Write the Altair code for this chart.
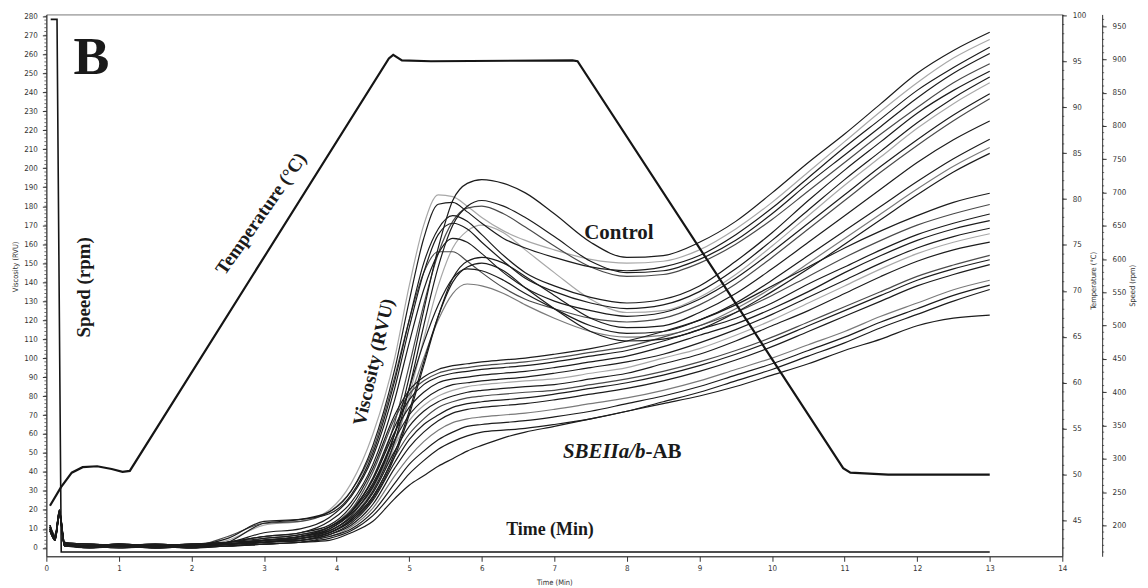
import altair as alt
import pandas as pd

# ---------------- data ----------------
T = [0.05, 0.12, 0.18, 0.25, 0.6, 1.0, 1.5, 2.0, 2.5, 3.0, 3.5, 3.9,
     4.2, 4.5, 4.8, 5.0, 5.2, 5.4, 5.6, 5.8, 6.0, 6.3, 6.6, 7.0,
     7.5, 8.0, 8.5, 9.0, 9.5, 10.0, 10.5, 11.0, 11.5, 12.0, 12.5, 13.0]

# Control (wild type) pasting curves, RVU
C01 = [10, 5, 19, 2, 1, 1, 0, 1, 2, 4, 6, 10, 18, 32, 60, 90, 125, 158, 183, 192, 194, 192, 187, 176, 161, 153, 154, 161, 172, 187, 203, 218, 234, 250, 262, 271.6]
C02 = [11, 6, 18, 3, 2, 1, 2, 1, 4, 12, 14, 20, 34, 60, 100, 138, 170, 186, 185, 180, 174, 167, 162, 157, 152, 150, 151, 157, 168, 182, 198, 214, 230, 245, 258, 267.8]
C03 = [9, 4, 17, 1, 0, 2, 1, 0, 3, 13, 15, 19, 30, 54, 94, 130, 163, 181, 182, 177, 171, 163, 158, 153, 148, 146, 148, 154, 165, 179, 195, 211, 226, 241, 253, 263.7]
C04 = [10, 5, 20, 2, 1, 0, 1, 1, 2, 3, 5, 9, 16, 30, 56, 84, 117, 148, 170, 180, 183, 180, 174, 164, 151, 145, 146, 152, 162, 176, 192, 207, 222, 237, 250, 260.4]
C05 = [12, 6, 18, 2, 2, 1, 1, 2, 3, 4, 6, 11, 20, 36, 66, 96, 128, 155, 172, 179, 180, 176, 169, 159, 148, 143, 144, 150, 160, 173, 188, 203, 218, 232, 245, 255]
C06 = [10, 5, 18, 1, 1, 2, 0, 1, 5, 14, 15, 18, 28, 50, 88, 120, 150, 168, 175, 172, 165, 154, 145, 138, 132, 129, 131, 138, 151, 166, 183, 199, 214, 229, 241, 251.1]
C07 = [11, 5, 19, 3, 1, 1, 1, 2, 3, 8, 10, 16, 27, 48, 84, 116, 145, 165, 171, 168, 161, 151, 142, 135, 129, 126, 128, 135, 147, 162, 178, 194, 209, 224, 237, 248]
C08 = [10, 6, 17, 2, 1, 1, 2, 1, 2, 3, 5, 9, 16, 29, 54, 80, 110, 138, 158, 167, 170, 166, 157, 145, 131, 124, 125, 132, 144, 159, 175, 191, 206, 221, 234, 245]
C09 = [9, 4, 18, 2, 0, 1, 1, 0, 3, 6, 8, 14, 24, 44, 78, 108, 136, 155, 163, 161, 155, 145, 137, 130, 125, 122, 124, 131, 142, 156, 171, 186, 201, 215, 228, 239.2]
C10 = [12, 7, 19, 3, 2, 1, 1, 1, 6, 13, 14, 19, 30, 52, 90, 120, 145, 156, 156, 151, 145, 137, 131, 126, 121, 119, 121, 128, 139, 153, 168, 183, 198, 212, 225, 236.6]
C11 = [10, 5, 18, 1, 1, 2, 1, 1, 2, 3, 4, 8, 14, 26, 48, 70, 96, 122, 142, 151, 153, 150, 143, 133, 121, 116, 117, 124, 134, 147, 161, 175, 189, 203, 215, 224.9]
C12 = [11, 5, 20, 2, 1, 0, 1, 2, 3, 4, 6, 11, 19, 34, 60, 84, 108, 128, 142, 147, 146, 141, 134, 126, 117, 113, 114, 120, 129, 141, 154, 167, 180, 193, 205, 215.3]
C13 = [10, 6, 17, 2, 2, 1, 0, 1, 2, 4, 6, 10, 18, 32, 56, 78, 100, 120, 134, 139, 138, 134, 128, 121, 114, 111, 112, 117, 126, 137, 150, 163, 176, 189, 201, 210.9]
C14 = [9, 4, 18, 2, 1, 1, 2, 1, 2, 3, 5, 8, 15, 27, 50, 72, 98, 122, 140, 148, 150, 146, 137, 126, 114, 109, 110, 115, 124, 135, 147, 160, 173, 186, 198, 207.8]

# SBEIIa/b-AB mutant curves, RVU
M01 = [10, 5, 18, 2, 1, 1, 1, 1, 3, 6, 8, 12, 22, 42, 70, 83, 90, 94, 96, 97, 98, 99, 100, 102, 105, 109, 114, 120, 128, 138, 148, 158, 167, 175, 182, 186.8]
M02 = [11, 6, 19, 2, 2, 1, 1, 2, 2, 5, 7, 11, 20, 40, 68, 81, 88, 92, 94, 95, 96, 97, 98, 100, 103, 106, 111, 117, 124, 133, 143, 153, 162, 170, 176, 180.9]
M03 = [9, 5, 18, 1, 1, 2, 1, 1, 2, 4, 6, 10, 19, 37, 64, 78, 86, 90, 92, 93, 94, 95, 96, 98, 101, 104, 109, 115, 121, 129, 139, 148, 157, 165, 171, 175.9]
M04 = [10, 4, 17, 2, 0, 1, 2, 1, 3, 5, 7, 11, 19, 36, 61, 74, 82, 87, 89, 90, 91, 92, 93, 95, 98, 101, 106, 112, 118, 126, 135, 145, 154, 162, 168, 172.4]
M05 = [12, 6, 20, 3, 1, 1, 1, 2, 2, 4, 6, 9, 17, 33, 57, 70, 78, 83, 86, 87, 88, 89, 90, 92, 95, 98, 102, 108, 115, 123, 132, 141, 150, 158, 164, 168.4]
M06 = [10, 5, 18, 2, 2, 0, 1, 1, 2, 3, 5, 9, 16, 31, 54, 67, 75, 80, 83, 85, 86, 87, 88, 89, 92, 95, 100, 105, 112, 120, 129, 138, 147, 155, 161, 165.5]
M07 = [11, 5, 19, 2, 1, 1, 0, 1, 2, 4, 5, 8, 15, 29, 51, 64, 72, 77, 80, 82, 83, 84, 85, 86, 89, 92, 97, 102, 109, 117, 125, 134, 143, 151, 157, 161.1]
M08 = [9, 4, 17, 1, 1, 2, 1, 0, 1, 3, 5, 8, 14, 27, 48, 60, 68, 74, 77, 79, 80, 81, 82, 83, 86, 89, 93, 98, 104, 111, 119, 127, 135, 143, 149, 154.1]
M09 = [10, 6, 18, 2, 1, 1, 2, 1, 2, 3, 4, 7, 13, 25, 45, 57, 65, 70, 74, 76, 77, 78, 79, 81, 84, 87, 91, 96, 102, 109, 117, 125, 133, 141, 147, 151.8]
M10 = [11, 5, 19, 3, 2, 1, 1, 1, 1, 3, 4, 7, 12, 23, 42, 53, 61, 67, 71, 73, 74, 75, 76, 78, 81, 84, 88, 93, 99, 106, 114, 122, 130, 138, 144, 149.2]
M11 = [10, 5, 18, 2, 1, 1, 1, 2, 2, 3, 4, 6, 11, 21, 38, 48, 56, 62, 66, 68, 69, 70, 71, 73, 76, 79, 83, 88, 94, 100, 107, 114, 122, 129, 136, 141]
M12 = [12, 6, 19, 1, 1, 2, 0, 1, 1, 2, 3, 6, 10, 19, 34, 44, 51, 57, 61, 64, 65, 66, 67, 69, 72, 76, 80, 85, 91, 97, 104, 111, 119, 126, 133, 138.4]
M13 = [10, 5, 17, 2, 2, 1, 1, 1, 1, 2, 3, 5, 9, 17, 30, 39, 46, 52, 56, 59, 61, 62, 63, 65, 68, 72, 77, 82, 88, 94, 101, 108, 116, 123, 130, 136.1]
M14 = [9, 4, 18, 2, 1, 1, 1, 0, 1, 2, 3, 4, 8, 14, 26, 33, 38, 43, 47, 51, 54, 58, 61, 64, 68, 72, 76, 80, 85, 91, 97, 104, 110, 117, 121, 122.6]

# Temperature profile (deg C)
TEMP_T = [0.05, 0.2, 0.35, 0.5, 0.7, 0.9, 1.05, 1.15, 4.72, 4.78, 4.9, 5.3, 7.25, 7.32, 10.98, 11.08, 11.6, 13.0]
TEMP_V = [46.6, 48.6, 50.2, 50.8, 50.9, 50.6, 50.3, 50.4, 95.3, 95.7, 95.1, 95.0, 95.1, 95.0, 50.7, 50.2, 50.0, 50.0]

# Paddle speed (rpm)
SPEED_T = [0.06, 0.147, 0.205, 13.0]
SPEED_V = [960, 960, 160, 160]

CURVES = {
    "C01": C01, "C02": C02, "C03": C03, "C04": C04, "C05": C05, "C06": C06, "C07": C07,
    "C08": C08, "C09": C09, "C10": C10, "C11": C11, "C12": C12, "C13": C13, "C14": C14,
    "M01": M01, "M02": M02, "M03": M03, "M04": M04, "M05": M05, "M06": M06, "M07": M07,
    "M08": M08, "M09": M09, "M10": M10, "M11": M11, "M12": M12, "M13": M13, "M14": M14,
}

# ---------------- styles ----------------
SHADE = {"k": "#1c1c1c", "d": "#4a4a4a", "m": "#7a7a7a", "l": "#a8a8a8"}
CURVE_SHADE = {
    "C01": "k", "C02": "l", "C03": "k", "C04": "k", "C05": "d", "C06": "k", "C07": "k",
    "C08": "l", "C09": "k", "C10": "d", "C11": "k", "C12": "k", "C13": "m", "C14": "k",
    "M01": "k", "M02": "d", "M03": "k", "M04": "k", "M05": "k", "M06": "l", "M07": "k",
    "M08": "d", "M09": "k", "M10": "k", "M11": "m", "M12": "k", "M13": "k", "M14": "k",
}

W, H = 1020, 544
AX_FONT = "DejaVu Sans Condensed, DejaVu Sans"
SERIF = "Liberation Serif"
AXC = "#333333"

# draw lighter curves first so dark ones sit on top
order = sorted(CURVES.keys(), key=lambda k: {"l": 0, "m": 1, "d": 2, "k": 3}[CURVE_SHADE[k]])
rows = []
for name in order:
    for t, v in zip(T, CURVES[name]):
        rows.append({"t": t, "v": v, "curve": name})
visc_df = pd.DataFrame(rows)
temp_df = pd.DataFrame({"t": TEMP_T, "temp": TEMP_V})
speed_df = pd.DataFrame({"t": SPEED_T, "rpm": SPEED_V})

common_axis = dict(labelFont=AX_FONT, labelFontSize=8, labelColor=AXC, domainColor=AXC,
                   tickColor=AXC, titleFont=AX_FONT, titleFontSize=7.5, titleFontWeight="normal",
                   titleColor=AXC, grid=False, labelFlush=False)

x_axis = alt.Axis(values=list(range(0, 15)), title="Time (Min)", tickSize=5, labelPadding=3,
                  titleY=22, titleBaseline="top", **common_axis)
X = alt.X("t:Q", scale=alt.Scale(domain=[0, 14], nice=False, zero=False), axis=x_axis)

visc_axis = alt.Axis(values=list(range(0, 281, 10)), title="Viscosity (RVU)", tickSize=4,
                     labelPadding=5, titleX=-31, titleY=253, titleAngle=270,
                     titleBaseline="middle", **common_axis)
YV = alt.Y("v:Q", scale=alt.Scale(domain=[-4.4, 281], nice=False, zero=False), axis=visc_axis)

temp_axis = alt.Axis(orient="right", values=list(range(45, 101, 5)), title="Temperature (°C)",
                     tickSize=4, labelPadding=6, titleX=31, titleY=267, titleAngle=270,
                     titleBaseline="middle", **common_axis)
YT = alt.Y("temp:Q", scale=alt.Scale(domain=[41.1, 100.1], nice=False, zero=False), axis=temp_axis)

speed_axis = alt.Axis(orient="right", offset=40, values=list(range(200, 951, 50)), title="Speed (rpm)",
                      tickSize=4, labelPadding=6, titleX=30, titleY=272, titleAngle=270,
                      titleBaseline="middle", **common_axis)
YS = alt.Y("rpm:Q", scale=alt.Scale(domain=[153.6, 967.5], nice=False, zero=False), axis=speed_axis)

# minor ticks (axis decoration)
minor_v = alt.Chart(pd.DataFrame({"v": list(range(0, 281, 2))})).mark_rule(
    color=AXC, strokeWidth=0.7).encode(y=YV, x=alt.value(0), x2=alt.value(-2))
minor_t = alt.Chart(pd.DataFrame({"temp": list(range(42, 101, 1))})).mark_rule(
    color=AXC, strokeWidth=0.7).encode(y=YT, x=alt.value(W), x2=alt.value(W + 2))
minor_s = alt.Chart(pd.DataFrame({"rpm": list(range(160, 961, 10))})).mark_rule(
    color=AXC, strokeWidth=0.7).encode(y=YS, x=alt.value(W + 40), x2=alt.value(W + 42))

lines_v = alt.Chart(visc_df).mark_line(strokeWidth=1.2, interpolate="monotone").encode(
    x=X, y=YV,
    color=alt.Color("curve:N", scale=alt.Scale(domain=order, range=[SHADE[CURVE_SHADE[k]] for k in order]),
                    legend=None),
)

line_t = alt.Chart(temp_df).mark_line(strokeWidth=2.2, color="#151515").encode(x=X, y=YT)
line_s = alt.Chart(speed_df).mark_line(strokeWidth=1.6, color="#151515").encode(x=X, y=YS)


def label(text, t, v, size, angle=0, italic=False, align="center", baseline="middle"):
    df = pd.DataFrame({"t": [t], "v": [v], "label": [text]})
    return alt.Chart(df).mark_text(
        font=SERIF, fontWeight="bold", fontStyle="italic" if italic else "normal",
        fontSize=size, angle=angle, align=align, baseline=baseline, color="#1a1a1a",
    ).encode(x=X, y=YV, text="label:N")


texts = [
    label("B", 0.62, 249.6, 54, baseline="alphabetic"),
    label("Speed (rpm)", 0.515, 137.2, 19, angle=270),
    label("Temperature (°C)", 2.96, 176, 19, angle=305),
    label("Viscosity (RVU)", 4.51, 97.9, 19, angle=283),
    label("Control", 7.89, 165.6, 21),
    label("SBEIIa/b", 8.256, 47.6, 21, italic=True, align="right", baseline="alphabetic"),
    label("-AB", 8.256, 47.6, 21, align="left", baseline="alphabetic"),
    label("Time (Min)", 6.94, 9.3, 18),
]

visc_layer = alt.layer(minor_v, lines_v, *texts)
temp_layer = alt.layer(minor_t, line_t)
speed_layer = alt.layer(minor_s, line_s)

chart = alt.layer(visc_layer, temp_layer, speed_layer).resolve_scale(y="independent").properties(
    width=W, height=H,
    autosize=alt.AutoSizeParams(type="none"),
    padding={"left": 38.5, "top": 5.3, "right": 78, "bottom": 30.7},
    background="white",
).configure_view(stroke="#777777", strokeWidth=1)

chart.save("out.html", embed_options={"renderer": "svg", "actions": False})
